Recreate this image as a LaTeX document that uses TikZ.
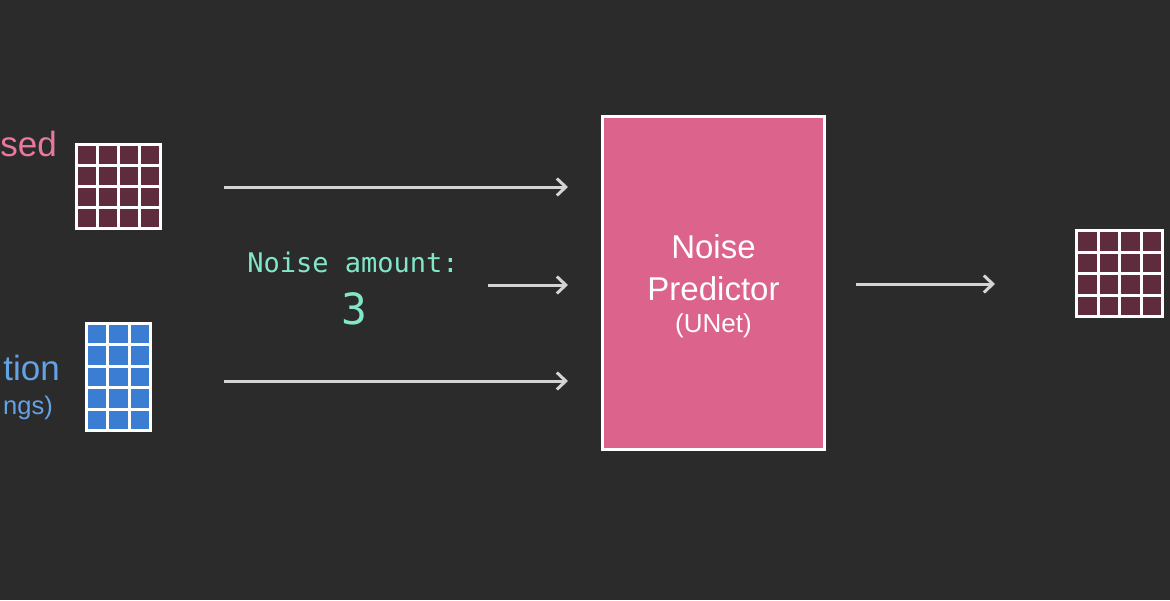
\documentclass[tikz,border=0pt]{standalone}
\usepackage{fontspec}
\setmainfont{Liberation Sans}
\setmonofont{DejaVu Sans Mono}
\usetikzlibrary{arrows.meta}

\definecolor{bgdark}{RGB}{43,43,43}
\definecolor{boxpink}{RGB}{220,100,140}
\definecolor{textpink}{RGB}{232,120,160}
\definecolor{textblue}{RGB}{100,162,230}
\definecolor{cellblue}{RGB}{58,125,210}
\definecolor{cellmaroon}{RGB}{95,44,62}
\definecolor{mint}{RGB}{128,232,200}
\definecolor{arrowgray}{RGB}{212,212,212}

% left, top, cols, rows, pitch, fill
\newcommand{\cellgrid}[6]{%
  \fill[white] (#1,#2) rectangle ++({#3*#5+3},{#4*#5+3});
  \foreach \i in {1,...,#3}
    \foreach \j in {1,...,#4}
      \fill[#6] ({#1+3+(\i-1)*#5},{#2+3+(\j-1)*#5}) rectangle ++({#5-3},{#5-3});
}

\tikzset{
  flow/.style={draw=arrowgray, line width=3pt, -{Straight Barb[length=9pt,width=17pt,line width=3pt]}},
  unetbox/.style={draw=white, line width=3pt, fill=boxpink, minimum width=222pt, minimum height=333pt},
}

\begin{document}
\begin{tikzpicture}[x=1pt, y=-1pt]
        \fill[bgdark] (0,0) rectangle (1170,600);
        \useasboundingbox (0,0) rectangle (1170,600);

        \node[anchor=base east, text=textpink, font=\fontsize{35}{37}\selectfont, inner sep=0pt] (sedlabel) at (57,156) {sed};
        \node[anchor=base east, text=textblue, font=\fontsize{35}{37}\selectfont, inner sep=0pt] (tionlabel) at (60,380) {tion};
        \node[anchor=base east, text=textblue, font=\fontsize{25.5}{28}\selectfont, inner sep=0pt] (ngslabel) at (53,414) {ngs)};

        \cellgrid{75}{143}{4}{4}{20.9}{cellmaroon}
        \cellgrid{85}{322}{3}{5}{21.4}{cellblue}
        \cellgrid{1075}{229}{4}{4}{21.5}{cellmaroon}

        \node[anchor=base, text=mint, font=\ttfamily\fontsize{27}{29}\selectfont, inner sep=0pt] (amount) at (353,272) {Noise amount:};
        \node[anchor=base, text=mint, font=\ttfamily\fontsize{43}{45}\selectfont, inner sep=0pt] (amountval) at (354,324) {3};

        \node[unetbox] (unet) at (713.5,283) {};
        \node[anchor=base, text=white, font=\fontsize{33}{35}\selectfont, inner sep=0pt] (unetname) at (713.5,258) {Noise};
        \node[anchor=base, text=white, font=\fontsize{33}{35}\selectfont, inner sep=0pt] (unetname2) at (713.5,300) {Predictor};
        \node[anchor=base, text=white, font=\fontsize{26}{28}\selectfont, inner sep=0pt] (unetsub) at (713.5,332) {(UNet)};

        \coordinate (in1) at (224,187);
        \coordinate (in2) at (488,285);
        \coordinate (in3) at (224,381);
        \coordinate (out1) at (856,284);
        \coordinate (end1) at (568,187);
        \coordinate (end2) at (568,285);
        \coordinate (end3) at (568,381);
        \coordinate (end4) at (995,284);

        \draw[flow] (in1) -- (end1);
        \draw[flow] (in2) -- (end2);
        \draw[flow] (in3) -- (end3);
        \draw[flow] (out1) -- (end4);
\end{tikzpicture}
\end{document}
